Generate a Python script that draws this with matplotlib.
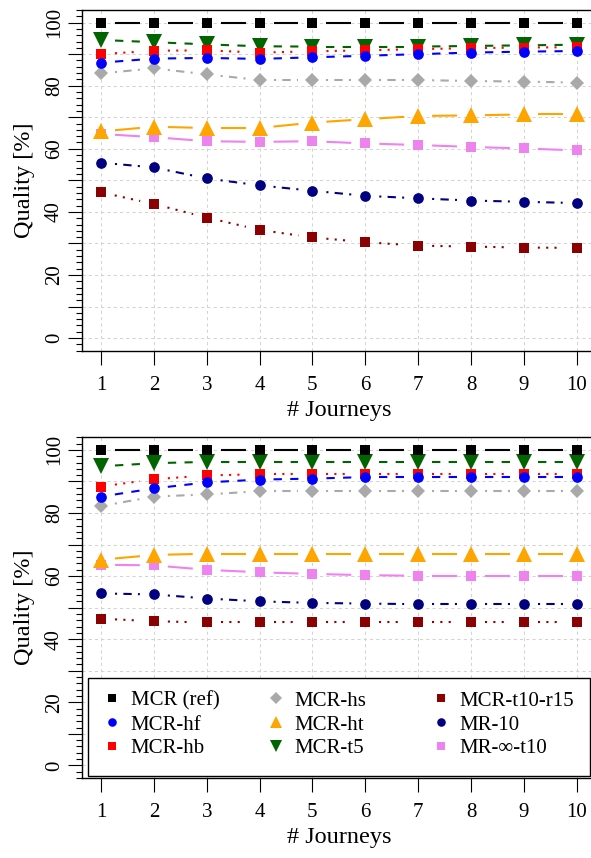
import numpy as np
import matplotlib
matplotlib.use("Agg")
import matplotlib.pyplot as plt
from matplotlib.lines import Line2D
from matplotlib.legend import Legend
from matplotlib.patches import Rectangle
from matplotlib.ticker import MultipleLocator

plt.rcParams['font.family'] = ['Liberation Serif', 'DejaVu Serif']

journeys = np.arange(1, 11)
series_names = ["MCR (ref)", "MCR-hf", "MCR-hb", "MCR-hs", "MCR-ht", "MCR-t5",
                "MCR-t10-r15", "MR-10", "MR-\u221e-t10"]

# top panel
top_ref = [100, 100, 100, 100, 100, 100, 100, 100, 100, 100]
top_hf = [87.3, 88.6, 88.8, 88.5, 89.0, 89.5, 90.0, 90.5, 90.8, 91.0]
top_hb = [90.0, 91.1, 91.2, 90.5, 90.9, 91.2, 91.6, 91.9, 92.1, 92.2]
top_hs = [83.9, 85.5, 83.6, 81.8, 81.8, 81.8, 81.8, 81.5, 81.3, 81.0]
top_ht = [65.5, 67.0, 66.6, 66.6, 68.3, 69.4, 70.4, 70.6, 70.9, 70.9]
top_t5 = [94.5, 93.8, 93.1, 92.5, 92.4, 92.4, 92.4, 92.6, 92.8, 93.0]
top_t10r15 = [46.2, 42.5, 38.2, 34.3, 31.9, 30.4, 29.3, 29.0, 28.7, 28.6]
top_mr10 = [55.6, 54.1, 50.6, 48.4, 46.7, 45.1, 44.3, 43.6, 43.2, 42.8]
top_mrinf = [64.7, 63.7, 62.4, 62.2, 62.4, 61.7, 61.2, 60.6, 60.1, 59.5]

# bottom panel
bot_ref = [100, 100, 100, 100, 100, 100, 100, 100, 100, 100]
bot_hf = [85.2, 87.8, 89.7, 90.6, 90.9, 91.4, 91.4, 91.4, 91.4, 91.4]
bot_hb = [88.4, 90.7, 91.9, 92.3, 92.3, 92.3, 92.3, 92.3, 92.3, 92.3]
bot_hs = [82.2, 85.2, 85.9, 86.9, 86.9, 86.9, 86.9, 86.9, 86.9, 86.9]
bot_ht = [65.2, 66.7, 67.1, 67.1, 67.1, 67.1, 67.1, 67.1, 67.1, 67.1]
bot_t5 = [94.8, 95.8, 96.2, 96.2, 96.2, 96.2, 96.2, 96.2, 96.2, 96.2]
bot_t10r15 = [46.5, 45.7, 45.3, 45.3, 45.3, 45.3, 45.3, 45.3, 45.3, 45.3]
bot_mr10 = [54.5, 54.2, 52.9, 52.0, 51.5, 51.3, 51.1, 51.1, 51.1, 51.1]
bot_mrinf = [63.6, 63.4, 62.0, 61.2, 60.7, 60.3, 60.1, 60.1, 60.1, 60.1]

# name -> colour, marker, markersize, linestyle
styles = {
    "MCR (ref)": ("black", "s", 7.7, "-"),
    "MCR-hf": ("blue", "o", 7.7, (0, (4, 4))),
    "MCR-hb": ("red", "s", 7.7, (0, (1, 3))),
    "MCR-hs": ("darkgray", "D", 7.5, (0, (1, 3, 4, 3))),
    "MCR-ht": ("orange", "^", 11.5, "-"),
    "MCR-t5": ("darkgreen", "v", 11.5, (0, (4, 4))),
    "MCR-t10-r15": ("darkred", "s", 7.7, (0, (1, 3))),
    "MR-10": ("navy", "o", 7.7, (0, (1, 3, 4, 3))),
    "MR-\u221e-t10": ("violet", "s", 7.7, "-"),
}
draw_order = ["MR-\u221e-t10", "MR-10", "MCR-t10-r15", "MCR-hs", "MCR-ht",
              "MCR-t5", "MCR-hb", "MCR-hf", "MCR (ref)"]

W, H = 591, 858
fig = plt.figure(figsize=(W / 100, H / 100), dpi=100)
ax_w = 513.7 / W
ax_h = 340.7 / H
ax_top = fig.add_axes([82 / W, 1 - 350.7 / H, ax_w, ax_h])
ax_bot = fig.add_axes([82 / W, 1 - 778.0 / H, ax_w, ax_h])


def gapped_line(ax, x, y, color, ls, gap=14):
    # R style type="b": segments stop short of the points
    pts = ax.transData.transform(np.column_stack([x, y]))
    inv = ax.transData.inverted()
    for p0, p1 in zip(pts[:-1], pts[1:]):
        d = p1 - p0
        L = np.hypot(*d)
        if L <= 2 * gap:
            continue
        u = d / L
        a = inv.transform(p0 + u * gap)
        b = inv.transform(p1 - u * gap)
        ax.plot([a[0], b[0]], [a[1], b[1]], color=color, ls=ls, lw=1.5,
                solid_capstyle='butt', dash_capstyle='butt', zorder=2)


def setup(ax):
    ax.set_xlim(0.64, 10.36)
    ax.set_ylim(-4, 104)
    ax.set_xticks(journeys)
    ax.yaxis.set_major_locator(MultipleLocator(10))
    ax.yaxis.set_minor_locator(MultipleLocator(2))
    ax.set_yticklabels(['' if v % 20 else str(int(v)) for v in ax.get_yticks()])
    ax.set_ylim(-4, 104)
    ax.grid(True, which='major', color='#d3d3d3', lw=0.75, ls=(0, (3, 3)))
    ax.set_axisbelow(True)
    ax.tick_params(axis='both', which='major', length=10, width=0.8, labelsize=15)
    ax.tick_params(axis='y', which='minor', length=4, width=0.8)
    ax.tick_params(axis='x', pad=8)
    ax.tick_params(axis='y', pad=3)
    for lab in ax.get_yticklabels():
        lab.set_rotation(90)
        lab.set_va('center')
    for sp in ax.spines.values():
        sp.set_linewidth(1.0)
    ax.set_xlabel("# Journeys", fontsize=17.5, va='center')
    ax.set_ylabel("Quality [%]", fontsize=17.5, va='center')
    ax.xaxis.set_label_coords(0.5, -0.176)
    ax.yaxis.set_label_coords(-0.111, 0.5)


def draw_panel(ax, data):
    setup(ax)
    for name in draw_order:
        c, m, ms, ls = styles[name]
        gapped_line(ax, journeys, data[name], c, ls)
        ax.plot(journeys, data[name], ls='none', marker=m, ms=ms, color=c,
                mec=c, mew=0, zorder=3, clip_on=False)


top_data = dict(zip(series_names, [top_ref, top_hf, top_hb, top_hs, top_ht, top_t5,
                                   top_t10r15, top_mr10, top_mrinf]))
bot_data = dict(zip(series_names, [bot_ref, bot_hf, bot_hb, bot_hs, bot_ht, bot_t5,
                                   bot_t10r15, bot_mr10, bot_mrinf]))
draw_panel(ax_top, top_data)
draw_panel(ax_bot, bot_data)

# legend: white box with three columns of markers
x0 = (88 - 82) / 513.7
y0 = (778 - 776) / 340.7
ax_bot.add_patch(Rectangle((x0, y0), 0.977, 0.2935 - y0, transform=ax_bot.transAxes,
                           facecolor='white', edgecolor='black', lw=1.0, zorder=5))
col_x = [(97 - 82) / 513.7, (261 - 82) / 513.7, (426 - 82) / 513.7]
for i in range(3):
    handles = []
    for name in series_names[3 * i:3 * i + 3]:
        c, m, ms, ls = styles[name]
        handles.append(Line2D([], [], ls='none', marker=m, ms=ms * 0.8, color=c,
                              mew=0, label=name))
    leg = Legend(ax_bot, handles, [h.get_label() for h in handles], loc='upper left',
                 bbox_to_anchor=(col_x[i], 0.267), bbox_transform=ax_bot.transAxes,
                 frameon=False, fontsize=15, handlelength=1.0, handletextpad=0.41,
                 labelspacing=0.2, borderpad=0.2, borderaxespad=0)
    leg.set_zorder(6)
    ax_bot.add_artist(leg)

fig.savefig("out.png", dpi=100)
